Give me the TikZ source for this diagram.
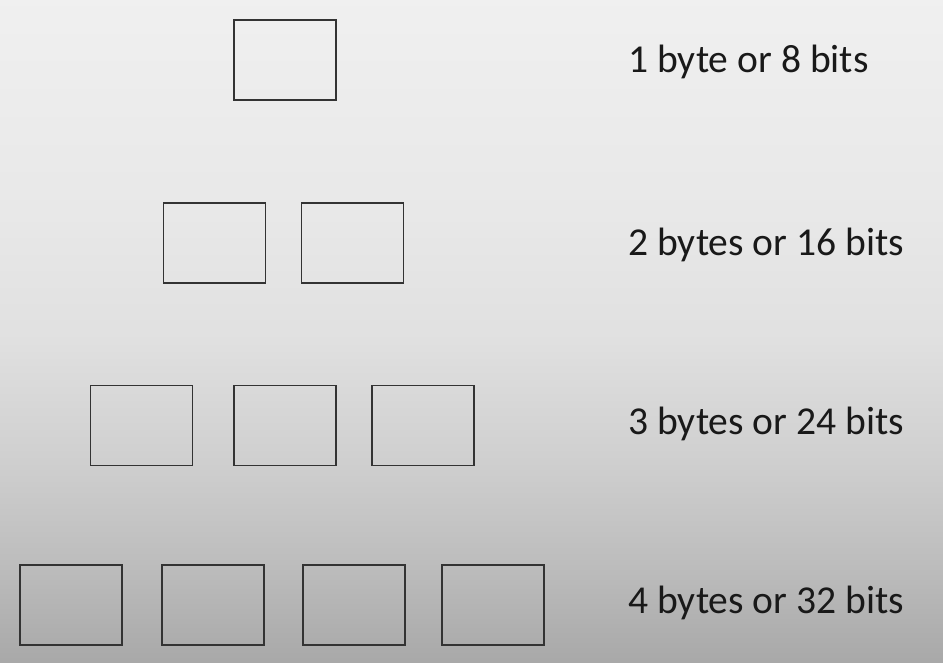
\documentclass[tikz,border=0pt]{standalone}
\usepackage{fontspec}
\setmainfont{Carlito}
\definecolor{boxLine}{HTML}{333333}
\pgfdeclareverticalshading{slideBack}{100bp}{%
  color(0bp)=(black!34); color(25bp)=(black!34); color(32.5bp)=(black!26);
  color(40bp)=(black!19); color(49.5bp)=(black!12); color(59bp)=(black!9);
  color(75bp)=(black!6); color(100bp)=(black!6)}
\begin{document}
\begin{tikzpicture}
[byteDecorate/.style={shape=rectangle,draw=boxLine,line width=0.7pt,
   minimum width=2.04cm,minimum height=1.6cm,inner sep=0pt},
  labelDecorate/.style={anchor=base west,inner sep=0pt,text=black!90,
   font=\fontsize{22.5}{27}\selectfont}]
%% background
\path[shading=slideBack] (0,0) rectangle (18.86,-13.26);
\useasboundingbox (0,0) rectangle (18.86,-13.26);
%% bytes
\foreach \nodename/\x/\y in {
  a1/5.70/-1.20,
  b1/4.29/-4.86, b2/7.05/-4.86,
  c1/2.83/-8.51, c2/5.70/-8.51, c3/8.46/-8.51,
  d1/1.42/-12.10, d2/4.26/-12.10, d3/7.08/-12.10, d4/9.86/-12.10}
{
  \node (\nodename) at (\x,\y) [byteDecorate] {};
}
%% labels
\foreach \nodename/\y/\txt in {
  la/-1.46/1 byte or 8 bits,
  lb/-5.12/2 bytes or 16 bits,
  lc/-8.68/3 bytes or 24 bits,
  ld/-12.26/4 bytes or 32 bits}
{
  \node (\nodename) at (12.56,\y) [labelDecorate] {\txt};
}
\end{tikzpicture}
\end{document}
